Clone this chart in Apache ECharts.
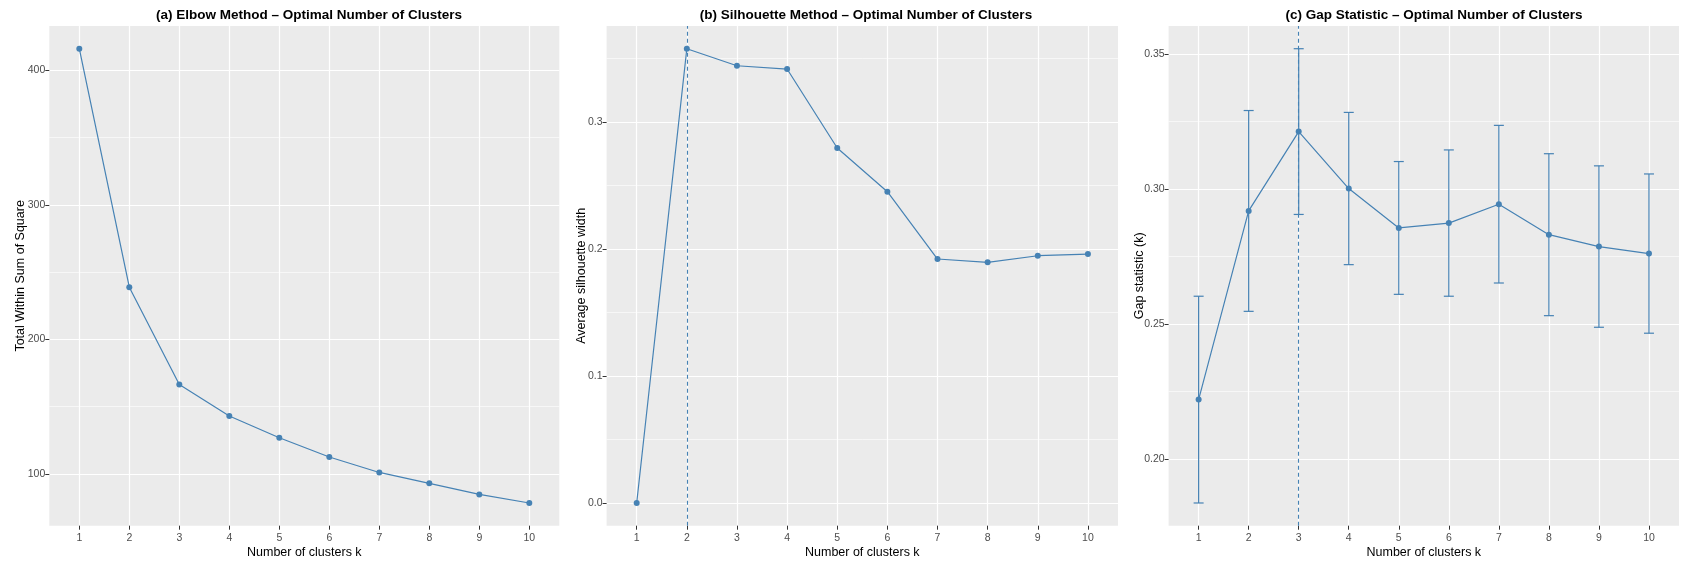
<!DOCTYPE html>
<html>
<head>
<meta charset="utf-8">
<title>Optimal Number of Clusters</title>
<script src="https://cdn.jsdelivr.net/npm/echarts@6/dist/echarts.min.js"></script>
<style>
  html, body { margin: 0; padding: 0; background: #ffffff; }
  #chart { width: 1681px; height: 561px; }
</style>
</head>
<body>
<div id="chart"></div>
<script>
// Number of clusters tried
const K = [1, 2, 3, 4, 5, 6, 7, 8, 9, 10];

// (a) total within-cluster sum of squares
const wss = [416, 238.7, 166.4, 143, 126.8, 112.5, 101, 92.9, 84.7, 78.3];
// (b) average silhouette width
const silWidth = [0, 0.3577, 0.3443, 0.3417, 0.2795, 0.2451, 0.1921, 0.1895, 0.1947, 0.196];
// (c) gap statistic and its standard error
const gapStat = [0.222, 0.2919, 0.3213, 0.3002, 0.2856, 0.2874, 0.2944, 0.2831, 0.2787, 0.2761];
const gapSE = [0.0383, 0.0372, 0.0307, 0.0282, 0.0246, 0.0271, 0.0292, 0.0300, 0.0299, 0.0295];

// chosen k for the silhouette and gap methods
const bestKSil = 2;
const bestKGap = 3;

// axis ticks (major) and minor grid positions
const wssTicks = [100, 200, 300, 400];
const wssMinor = [150, 250, 350];
const silTicks = [0, 0.1, 0.2, 0.3];
const silMinor = [0.05, 0.15, 0.25, 0.35];
const gapTicks = [0.20, 0.25, 0.30, 0.35];
const gapMinor = [0.225, 0.275, 0.325];

const titles = [
  '(a) Elbow Method \u2013 Optimal Number of Clusters',
  '(b) Silhouette Method \u2013 Optimal Number of Clusters',
  '(c) Gap Statistic \u2013 Optimal Number of Clusters'
];
const yNames = ['Total Within Sum of Square', 'Average silhouette width', 'Gap statistic (k)'];

const FONT = '"Liberation Sans", Arial, Helvetica, sans-serif';
const BLUE = '#4682B4';
const PANEL_BG = '#EBEBEB';

// panel rectangles in px, with the title centre and y-name gap of each panel
const panels = [
  { left: 49.3, top: 26, width: 510, height: 499.7, titleX: 309, nameGap: 22 },
  { left: 606.6, top: 26, width: 511.4, height: 499.7, titleX: 866, nameGap: 19 },
  { left: 1168.6, top: 26, width: 510.4, height: 499.7, titleX: 1434, nameGap: 23 }
];

// limits padded by 5% of the data range on each side
function padded(lo, hi) {
  const r = hi - lo;
  return [lo - 0.05 * r, hi + 0.05 * r];
}
const gapLo = gapStat.map((g, i) => g - gapSE[i]);
const gapHi = gapStat.map((g, i) => g + gapSE[i]);
const limits = [
  padded(Math.min(...wss), Math.max(...wss)),
  padded(Math.min(0, ...silWidth), Math.max(...silWidth)),
  padded(Math.min(...gapLo), Math.max(...gapHi))
];
const majorTicks = [wssTicks, silTicks, gapTicks];
const minorTicks = [wssMinor, silMinor, gapMinor];
const decimals = [0, 1, 2];

const grids = panels.map(p => ({
  left: p.left, top: p.top, width: p.width, height: p.height,
  show: true, backgroundColor: PANEL_BG, borderWidth: 0,
  containLabel: false, outerBoundsMode: 'none'
}));

const titleOpts = panels.map((p, i) => ({
  text: titles[i],
  left: p.titleX,
  top: 8,
  textAlign: 'center',
  padding: 0,
  textStyle: { fontFamily: FONT, fontSize: 13.5, fontWeight: 'bold', color: '#000', lineHeight: 15 }
}));

const xAxes = panels.map((p, i) => ({
  type: 'value', gridIndex: i, min: 0.4, max: 10.6, position: 'bottom',
  axisLine: { show: false, onZero: false },
  axisTick: { show: true, customValues: K, length: 4, lineStyle: { color: '#333333', width: 1 } },
  axisLabel: { customValues: K, color: '#4D4D4D', fontFamily: FONT, fontSize: 10.5, margin: 7 },
  splitLine: { show: true, lineStyle: { color: '#FFFFFF', width: 1.2 } },
  name: 'Number of clusters k', nameLocation: 'middle', nameGap: 20.5, nameMoveOverlap: false,
  nameTextStyle: { color: '#000', fontFamily: FONT, fontSize: 12.5 }
}));

const yAxes = [];
panels.forEach((p, i) => {
  yAxes.push({
    type: 'value', gridIndex: i, position: 'left',
    min: limits[i][0], max: limits[i][1],
    axisLine: { show: false, onZero: false },
    axisTick: { show: true, customValues: majorTicks[i], length: 4, lineStyle: { color: '#333333', width: 1 } },
    axisLabel: {
      customValues: majorTicks[i], color: '#4D4D4D', fontFamily: FONT, fontSize: 10.5, margin: 4,
      formatter: v => Number(v).toFixed(decimals[i])
    },
    splitLine: { show: true, lineStyle: { color: '#FFFFFF', width: 1.2 } },
    name: yNames[i], nameLocation: 'middle', nameGap: p.nameGap, nameMoveOverlap: false,
    nameTextStyle: { color: '#000', fontFamily: FONT, fontSize: 12.5 }
  });
  yAxes.push({
    type: 'value', gridIndex: i, position: 'left',
    min: limits[i][0], max: limits[i][1],
    axisLine: { show: false, onZero: false },
    axisTick: { show: false, customValues: minorTicks[i] },
    axisLabel: { show: false },
    splitLine: { show: true, lineStyle: { color: '#FFFFFF', width: 0.6 } }
  });
});

function lineSeries(idx, values, bestK) {
  const s = {
    type: 'line', xAxisIndex: idx, yAxisIndex: idx * 2,
    data: K.map((k, j) => [k, values[j]]),
    symbol: 'circle', symbolSize: 6, showSymbol: true,
    lineStyle: { color: BLUE, width: 1.2 },
    itemStyle: { color: BLUE },
    z: 3, animation: false
  };
  if (bestK != null) {
    s.markLine = {
      silent: true, symbol: ['none', 'none'], label: { show: false },
      lineStyle: { color: BLUE, type: [4, 3], width: 1.1 },
      data: [{ xAxis: bestK }], animation: false
    };
  }
  return s;
}

const errorBars = {
  type: 'custom', xAxisIndex: 2, yAxisIndex: 4, z: 2, animation: false,
  data: K.map((k, j) => [k, gapLo[j], gapHi[j]]),
  renderItem: function (params, api) {
    const x = api.value(0);
    const lo = api.coord([x, api.value(1)]);
    const hi = api.coord([x, api.value(2)]);
    const half = api.size([0.2, 0])[0] / 2;
    const style = { stroke: BLUE, lineWidth: 1.2, fill: null };
    return {
      type: 'group',
      children: [
        { type: 'line', shape: { x1: lo[0], y1: lo[1], x2: hi[0], y2: hi[1] }, style: style },
        { type: 'line', shape: { x1: lo[0] - half, y1: lo[1], x2: lo[0] + half, y2: lo[1] }, style: style },
        { type: 'line', shape: { x1: hi[0] - half, y1: hi[1], x2: hi[0] + half, y2: hi[1] }, style: style }
      ]
    };
  }
};

const chart = echarts.init(document.getElementById('chart'), null, { renderer: 'canvas' });
chart.setOption({
  animation: false,
  backgroundColor: '#FFFFFF',
  textStyle: { fontFamily: FONT },
  title: titleOpts,
  grid: grids,
  xAxis: xAxes,
  yAxis: yAxes,
  series: [
    lineSeries(0, wss, null),
    lineSeries(1, silWidth, bestKSil),
    errorBars,
    lineSeries(2, gapStat, bestKGap)
  ]
});
</script>
</body>
</html>
